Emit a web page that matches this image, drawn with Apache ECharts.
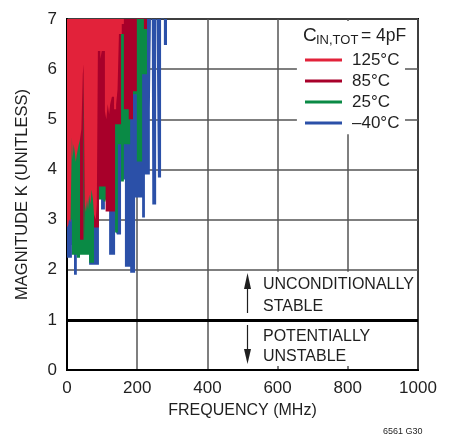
<!DOCTYPE html>
<html><head><meta charset="utf-8">
<script src="https://cdn.jsdelivr.net/npm/echarts@6/dist/echarts.min.js"></script>
<style>html,body{margin:0;padding:0;background:#fff}#c{width:453px;height:436px}</style>
</head><body><div id="c"></div>
<script>
// Legend / series names
const seriesNames = ['125°C', '85°C', '25°C', '–40°C'];
// Each point: [frequency (MHz), lowest K reached by the trace from that frequency until the next point]
// (values above 7 are off the top of the chart)
const k125 = [[0,2.84],[4,2.9],[6,3.0],[10,2.95],[14,4.64],[16,4.2],[19,4.5],[22,4.35],[25,4.15],[28,4.3],[32,4.45],[37,4.6],[41,4.8],[45,5.9],[47,6.1],[50,4.0],[51,3.3],[54,3.15],[57,3.4],[60,3.2],[63,3.5],[67,3.3],[70,3.6],[74,3.4],[77,3.1],[82,3.0],[85,3.3],[88,6.36],[95,6.2],[99,6.36],[108,5.16],[112,5.0],[116,5.3],[120,5.1],[123,5.3],[128,5.45],[134,5.2],[140,5.3],[144,5.6],[148,6.7],[156,6.9],[162,8]];
const k85 = [[0,4.7],[37,2.6],[47,6.0],[50,2.6],[51,3.6],[77,2.84],[91,3.66],[110,3.16],[137,4.9],[154,6.7],[162,5.2],[176,5.0],[188,5.56],[199,8],[219,6.8],[228,8]];
const k25 = [[0,3.0],[14,2.3],[28,2.24],[37,2.3],[63,2.14],[77,2.9],[91,3.4],[104,3.36],[110,3.4],[137,2.74],[145,4.5],[154,3.76],[162,4.5],[180,5.5],[199,4.16],[214,5.9],[228,8]];
const kMinus40 = [[0,2.24],[14,2.5],[20,1.9],[28,2.4],[63,2.1],[91,3.7],[97,3.2],[108,3.4],[120,2.3],[137,2.8],[142,2.7],[154,3.8],[165,2.06],[180,1.94],[194,3.44],[214,3.04],[222,3.9],[236,5.2],[241,8],[243,3.3],[254,8],[259,3.84],[268,8],[276,6.48],[285,8]];
const stabilityLimit = 1;
const xMin = 0, xMax = 1000, xStep = 200;
const yMin = 0, yMax = 7, yStep = 1;

const colors = { '125°C': '#e2223a', '85°C': '#a8002a', '25°C': '#0a8a45', '–40°C': '#2b50a8' };
const FONT = '"Liberation Sans", Arial, sans-serif';
const INK = '#1f1f1f';

function makeSeries(name, data, extra) {
  const c = colors[name];
  return Object.assign({
    name, type: 'line', data, step: 'end', symbol: 'none', showSymbol: false, clip: true,
    lineStyle: { color: c, width: 1, opacity: 0 }, itemStyle: { color: c },
    areaStyle: { color: c, opacity: 1, origin: 'end' }, animation: false, silent: true
  }, extra || {});
}

const chart = echarts.init(document.getElementById('c'), null, { renderer: 'canvas' });
chart.setOption({
  animation: false,
  backgroundColor: '#fff',
  grid: { left: 67, right: 35, top: 19, bottom: 66, show: true, borderColor: '#000', borderWidth: 2, backgroundColor: 'transparent' },
  xAxis: {
    type: 'value', min: xMin, max: xMax, interval: xStep,
    axisLine: { show: true, lineStyle: { color: '#000', width: 2 } },
    axisTick: { show: false },
    splitLine: { show: true, lineStyle: { color: '#555', width: 1.5 } },
    axisLabel: { color: INK, fontSize: 17, fontFamily: FONT, margin: 10, formatter: v => String(v) },
    name: 'FREQUENCY (MHz)', nameLocation: 'middle', nameGap: 33,
    nameTextStyle: { color: INK, fontSize: 16, fontFamily: FONT }
  },
  yAxis: {
    type: 'value', min: yMin, max: yMax, interval: yStep,
    axisLine: { show: true, lineStyle: { color: '#000', width: 2 } },
    axisTick: { show: false },
    splitLine: { show: true, lineStyle: { color: '#555', width: 1.5 } },
    axisLabel: { color: INK, fontSize: 17, fontFamily: FONT, margin: 10 },
    name: 'MAGNITUDE K (UNITLESS)', nameLocation: 'middle', nameGap: 36,
    nameTextStyle: { color: INK, fontSize: 16.5, fontFamily: FONT }
  },
  legend: {
    data: seriesNames, orient: 'vertical', left: 300, top: 44.5,
    icon: 'rect', itemWidth: 37, itemHeight: 3, itemGap: 0,
    textStyle: { color: INK, fontSize: 17, fontFamily: FONT, lineHeight: 21, padding: [0, 0, 0, 5] },
    selectedMode: false
  },
  series: [
    makeSeries('–40°C', kMinus40, {
      markArea: {
        silent: true, itemStyle: { color: '#fff' },
        data: [
          [{ coord: [655, 4.7] }, { coord: [963, 6.96] }],
          [{ coord: [493, 0.08] }, { coord: [996, 1.96] }]
        ]
      },
      markLine: {
        silent: true, symbol: 'none', label: { show: false },
        lineStyle: { color: '#000', width: 3, type: 'solid' },
        data: [{ yAxis: stabilityLimit }]
      }
    }),
    makeSeries('25°C', k25),
    makeSeries('85°C', k85),
    makeSeries('125°C', k125)
  ],
  graphic: [
    { type: 'text', z: 100, left: 303, top: 26, style: { text: 'C', fontSize: 19, fontFamily: FONT, fill: INK } },
    { type: 'text', z: 100, left: 316, top: 34, style: { text: 'IN,TOT', fontSize: 13, fontFamily: FONT, fill: INK } },
    { type: 'text', z: 100, left: 361, top: 27, style: { text: '= 4pF', fontSize: 17.5, fontFamily: FONT, fill: INK } },
    { type: 'text', z: 100, x: 263, y: 285, style: { text: 'UNCONDITIONALLY', fontSize: 16, fontFamily: FONT, fill: INK, verticalAlign: 'middle' } },
    { type: 'text', z: 100, x: 263, y: 306.5, style: { text: 'STABLE', fontSize: 16, fontFamily: FONT, fill: INK, verticalAlign: 'middle' } },
    { type: 'text', z: 100, x: 263, y: 336.5, style: { text: 'POTENTIALLY', fontSize: 16, fontFamily: FONT, fill: INK, verticalAlign: 'middle' } },
    { type: 'text', z: 100, x: 263, y: 356.5, style: { text: 'UNSTABLE', fontSize: 16, fontFamily: FONT, fill: INK, verticalAlign: 'middle' } },
    { type: 'line', z: 100, shape: { x1: 247.5, y1: 313, x2: 247.5, y2: 285 }, style: { stroke: INK, lineWidth: 1.2 } },
    { type: 'polygon', z: 100, shape: { points: [[247.5, 273], [244, 289], [251, 289]] }, style: { fill: INK } },
    { type: 'line', z: 100, shape: { x1: 247.5, y1: 325, x2: 247.5, y2: 352 }, style: { stroke: INK, lineWidth: 1.2 } },
    { type: 'polygon', z: 100, shape: { points: [[247.5, 364], [244, 349], [251, 349]] }, style: { fill: INK } },
    { type: 'text', z: 100, x: 383, y: 432, style: { text: '6561 G30', fontSize: 9, fontFamily: FONT, fill: INK, verticalAlign: 'middle' } }
  ]
});
</script>
</body></html>
